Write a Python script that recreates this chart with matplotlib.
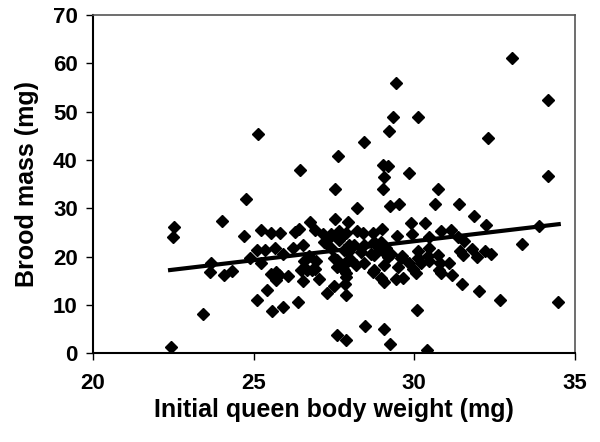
import matplotlib.pyplot as plt
import numpy as np

plt.rcParams['font.family'] = ['Liberation Sans', 'DejaVu Sans']

# initial queen body weight (mg) and brood mass (mg)
weight = [25.15, 26.43, 33.03, 29.43, 34.16, 29.35, 30.12, 29.2, 32.3, 28.45,
          27.63, 29.02, 29.17, 29.85, 29.07, 34.16, 27.53, 29.02, 30.74, 28.22,
          29.25, 29.54, 30.65, 31.40, 27.54, 27.95, 31.87, 32.25, 29.91, 30.34,
          29.0, 33.87, 33.37, 34.48, 32.67, 32.03, 31.49, 31.19, 31.07, 32.2,
          32.4, 31.97, 31.8, 31.52, 31.44, 31.55, 31.16, 30.82, 30.45, 30.45,
          30.12, 30.08, 30.40, 29.26, 29.06, 28.46, 27.59, 27.88, 27.29, 27.49,
          27.87, 27.84, 22.53, 22.5, 24.03, 22.43, 23.41, 23.66, 23.63, 24.07,
          24.33, 24.75, 24.7, 25.24, 25.54, 25.81, 25.11, 25.37, 25.67, 25.92,
          26.22, 24.9, 25.22, 26.54, 26.3, 26.42, 26.77, 26.91, 27.17, 27.2,
          25.53, 25.70, 25.8, 25.7, 26.06, 26.53, 26.47, 26.66, 26.57, 26.73,
          26.94, 26.91, 27.03, 25.42, 25.12, 25.58, 25.92, 26.38, 27.41, 27.65,
          27.38, 27.67, 27.72, 27.88, 27.41, 27.8, 26.82, 27.59, 27.59, 27.82,
          27.88, 28.22, 28.42, 28.73, 29.46, 29.93, 28.13, 28.45, 28.76, 28.86,
          29.07, 27.93, 28.34, 28.66, 29.28, 29.59, 30.11, 30.43, 30.74, 27.82,
          28.03, 28.19, 27.88, 27.77, 28.45, 28.76, 29.07, 29.18, 28.71, 28.97,
          29.07, 29.49, 29.44, 29.65, 29.62, 29.85, 29.96, 30.06, 30.22, 30.45,
          30.79, 30.84, 31.36, 27.3, 27.51, 27.88, 27.98, 28.97, 29.13, 28.76,
          30.76]
brood = [45.3, 38.0, 61.1, 56.0, 52.4, 48.9, 48.8, 45.9, 44.6, 43.7,
         40.8, 38.9, 38.8, 37.3, 36.4, 36.6, 34.0, 34.0, 34.0, 30.0,
         30.5, 30.8, 30.8, 30.8, 27.7, 27.2, 28.4, 26.6, 26.9, 27.0,
         25.6, 26.4, 22.5, 10.5, 11.1, 12.9, 14.4, 16.1, 18.6, 21.1,
         20.5, 19.9, 21.5, 20.3, 21.2, 23.2, 25.5, 25.3, 24.1, 21.8,
         21.1, 9.0, 0.7, 1.8, 5.1, 5.7, 3.7, 2.7, 12.4, 13.9,
         12.1, 14.4, 26.1, 24.0, 27.3, 1.3, 8.2, 18.7, 16.9, 16.1,
         17.0, 31.9, 24.2, 25.5, 24.8, 24.9, 21.3, 21.3, 21.8, 20.5,
         21.8, 19.6, 18.6, 22.4, 25.0, 25.8, 27.1, 25.5, 24.7, 23.0,
         16.4, 16.8, 16.1, 15.1, 16.0, 15.0, 17.2, 17.3, 19.0, 20.1,
         19.0, 17.5, 15.3, 13.0, 11.0, 8.8, 9.5, 10.5, 24.7, 25.2,
         24.1, 23.4, 24.0, 24.8, 21.8, 21.3, 17.2, 17.9, 19.3, 17.2,
         15.8, 25.3, 24.9, 24.8, 24.2, 24.6, 22.4, 22.4, 23.0, 22.0,
         21.0, 21.0, 21.0, 20.6, 20.6, 19.8, 19.8, 20.1, 20.3, 18.2,
         19.3, 18.2, 16.5, 17.5, 18.6, 20.3, 18.2, 19.9, 16.8, 15.5,
         14.8, 17.9, 15.3, 15.5, 20.1, 18.6, 17.5, 16.5, 18.6, 19.1,
         18.6, 16.5, 24.1, 23.7, 19.6, 18.9, 22.4, 23.1, 21.7, 17.2,
         17.2]

# regression line as printed
fit_x = [22.4, 34.5]
slope, intercept = 0.785, -0.38

fig = plt.figure(figsize=(6, 4.42), dpi=100)
ax = fig.add_axes([0.155, 0.201, 0.803, 0.765])

ax.plot(weight, brood, 'D', color='black', markersize=6.5, linestyle='none')
fx = np.array(fit_x)
ax.plot(fx, slope * fx + intercept, color='black', linewidth=3)

ax.set_xlim(20, 35)
ax.set_ylim(0, 70)
ax.set_xticks([20, 25, 30, 35])
ax.set_yticks(range(0, 71, 10))
ax.tick_params(direction='out', length=5, width=1, labelsize=16)
ax.tick_params(axis='x', pad=9)
ax.tick_params(axis='y', pad=6)
for lab in ax.get_xticklabels() + ax.get_yticklabels():
    lab.set_fontweight('bold')

for s in ['left', 'bottom']:
    ax.spines[s].set_linewidth(1.5)
for s in ['top', 'right']:
    ax.spines[s].set_linewidth(1.2)
    ax.spines[s].set_color('#555555')

ax.set_xlabel('Initial queen body weight (mg)', fontsize=18, fontweight='bold', labelpad=3)
ax.set_ylabel('Brood mass (mg)', fontsize=18, fontweight='bold', labelpad=10)

fig.savefig('out.png', dpi=100)
